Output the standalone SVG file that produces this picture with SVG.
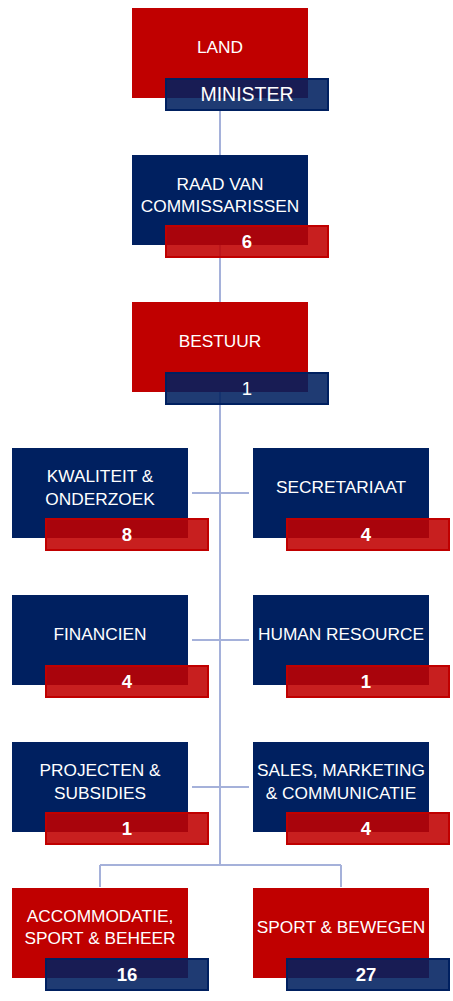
<svg xmlns="http://www.w3.org/2000/svg" width="453" height="1001" viewBox="0 0 453 1001">
<style>
.lbl{font-family:"Liberation Sans",Arial,sans-serif;font-size:17.3px;fill:#fff;text-anchor:middle}
.num{font-family:"Liberation Sans",Arial,sans-serif;font-size:18.5px;font-weight:bold;fill:#fff;text-anchor:middle}
.numn{font-family:"Liberation Sans",Arial,sans-serif;font-size:18.5px;fill:#fff;text-anchor:middle}
.red{fill:#c00000}
.navy{fill:#002060}
.bred{fill:#c00000;fill-opacity:0.88;stroke:#c00000;stroke-width:2}
.bnavy{fill:#002060;fill-opacity:0.88;stroke:#002060;stroke-width:2}
.conn{stroke:#a5b1da;stroke-width:2;fill:none}
</style>
<g id="connectors">
<path class="conn" d="M220 111V865M100 865H341M100 865V887M341 865V887M192 493H249M192 640H249M192 787H249"/>
</g>
<g id="land">
<rect class="red" x="132" y="8" width="176" height="90"/>
<text class="lbl" x="220" y="53">LAND</text>
<rect class="bnavy" x="166" y="79" width="162" height="31"/>
<text class="lbl" x="247" y="101" style="font-size:19.5px">MINISTER</text>
</g>
<g id="raad">
<rect class="navy" x="132" y="155" width="176" height="90"/>
<text class="lbl" x="220" y="190">RAAD VAN</text>
<text class="lbl" x="220" y="212">COMMISSARISSEN</text>
<rect class="bred" x="166" y="226" width="162" height="31"/>
<text class="num" x="247" y="248">6</text>
</g>
<g id="bestuur">
<rect class="red" x="132" y="302" width="176" height="90"/>
<text class="lbl" x="220" y="347">BESTUUR</text>
<rect class="bnavy" x="166" y="373" width="162" height="31"/>
<text class="numn" x="247" y="395">1</text>
</g>
<g id="kwaliteit">
<rect class="navy" x="12" y="448" width="176" height="90"/>
<text class="lbl" x="100" y="482">KWALITEIT &amp;</text>
<text class="lbl" x="100" y="505">ONDERZOEK</text>
<rect class="bred" x="46" y="519" width="162" height="31"/>
<text class="num" x="127" y="541">8</text>
</g>
<g id="secretariaat">
<rect class="navy" x="253" y="448" width="176" height="90"/>
<text class="lbl" x="341" y="493">SECRETARIAAT</text>
<rect class="bred" x="287" y="519" width="162" height="31"/>
<text class="num" x="366" y="541">4</text>
</g>
<g id="financien">
<rect class="navy" x="12" y="595" width="176" height="90"/>
<text class="lbl" x="100" y="640">FINANCIEN</text>
<rect class="bred" x="46" y="666" width="162" height="31"/>
<text class="num" x="127" y="688">4</text>
</g>
<g id="hr">
<rect class="navy" x="253" y="595" width="176" height="90"/>
<text class="lbl" x="341" y="640">HUMAN RESOURCE</text>
<rect class="bred" x="287" y="666" width="162" height="31"/>
<text class="num" x="366" y="688">1</text>
</g>
<g id="projecten">
<rect class="navy" x="12" y="742" width="176" height="90"/>
<text class="lbl" x="100" y="776">PROJECTEN &amp;</text>
<text class="lbl" x="100" y="799">SUBSIDIES</text>
<rect class="bred" x="46" y="813" width="162" height="31"/>
<text class="num" x="127" y="835">1</text>
</g>
<g id="sales">
<rect class="navy" x="253" y="742" width="176" height="90"/>
<text class="lbl" x="341" y="776">SALES, MARKETING</text>
<text class="lbl" x="341" y="799">&amp; COMMUNICATIE</text>
<rect class="bred" x="287" y="813" width="162" height="31"/>
<text class="num" x="366" y="835">4</text>
</g>
<g id="accommodatie">
<rect class="red" x="12" y="888" width="176" height="90"/>
<text class="lbl" x="100" y="922">ACCOMMODATIE,</text>
<text class="lbl" x="100" y="944">SPORT &amp; BEHEER</text>
<rect class="bnavy" x="46" y="959" width="162" height="31"/>
<text class="num" x="127" y="981">16</text>
</g>
<g id="sport">
<rect class="red" x="253" y="888" width="176" height="90"/>
<text class="lbl" x="341" y="933">SPORT &amp; BEWEGEN</text>
<rect class="bnavy" x="287" y="959" width="162" height="31"/>
<text class="num" x="366" y="981">27</text>
</g>
</svg>
